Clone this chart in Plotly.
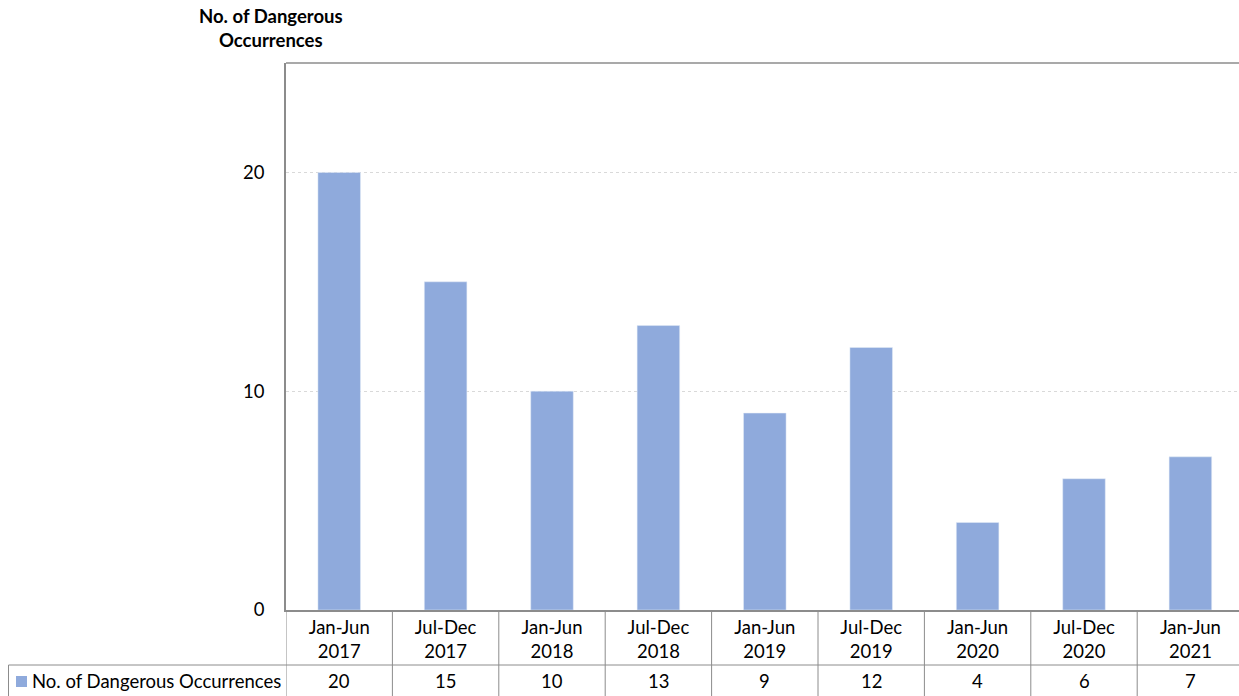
import plotly.graph_objects as go

categories = ["Jan-Jun<br>2017", "Jul-Dec<br>2017", "Jan-Jun<br>2018", "Jul-Dec<br>2018",
              "Jan-Jun<br>2019", "Jul-Dec<br>2019", "Jan-Jun<br>2020", "Jul-Dec<br>2020",
              "Jan-Jun<br>2021"]
values = [20, 15, 10, 13, 9, 12, 4, 6, 7]
series_name = "No. of Dangerous Occurrences"
y_ticks = [0, 10, 20]

BAR = "#8FAADC"
LINE = "#8C8C8C"
FONT = "Lato"
FS = 18.5
W, H = 1239, 696
L, R, T, B = 286, 0, 63, 86
ph = H - T - B
pw = W - L - R


def py(ref_y):
    return (610 - ref_y) / ph


def px(ref_x):
    return (ref_x - 286) / pw


fig = go.Figure()
fig.add_trace(go.Bar(x=list(range(len(categories))), y=values, marker_color=BAR,
                     width=0.40, name=series_name, showlegend=False))

shapes = []
shapes.append(dict(type="line", xref="paper", yref="paper", x0=0, x1=1, y0=1, y1=1,
                   line=dict(color=LINE, width=1.5)))
yb = -B / ph
ymid = py(665)
for i in range(len(categories) + 1):
    shapes.append(dict(type="line", xref="x", yref="paper", x0=i - 0.5, x1=i - 0.5,
                       y0=yb, y1=0, line=dict(color=LINE, width=1)))
x_left = px(8.5)
shapes.append(dict(type="line", xref="paper", yref="paper", x0=x_left, x1=1,
                   y0=ymid, y1=ymid, line=dict(color=LINE, width=1)))
shapes.append(dict(type="line", xref="paper", yref="paper", x0=x_left, x1=x_left,
                   y0=yb, y1=ymid, line=dict(color=LINE, width=1)))
shapes.append(dict(type="rect", xref="paper", yref="paper",
                   x0=px(16), x1=px(27), y0=py(687), y1=py(676),
                   fillcolor=BAR, line=dict(width=0)))

annotations = []
for i, v in enumerate(values):
    annotations.append(dict(x=i, xref="x", y=py(681), yref="paper", text=str(v),
                            showarrow=False, font=dict(size=FS, color="#000000", family=FONT),
                            xanchor="center", yanchor="middle"))
annotations.append(dict(x=px(30), xref="paper", y=py(681), yref="paper",
                        text=series_name, showarrow=False, xanchor="left", yanchor="middle",
                        font=dict(size=FS, color="#000000", family=FONT)))
annotations.append(dict(x=px(271), xref="paper", y=py(28.5), yref="paper",
                        text="<b>No. of Dangerous<br>Occurrences</b>", showarrow=False,
                        xanchor="center", yanchor="middle", align="center",
                        font=dict(size=FS, color="#000000", family=FONT)))

fig.update_layout(
    width=W, height=H, margin=dict(l=L, r=R, t=T, b=B),
    plot_bgcolor="white", paper_bgcolor="white",
    font=dict(family=FONT, size=FS, color="#000000"),
    shapes=shapes, annotations=annotations,
    xaxis=dict(range=[-0.5, -0.5 + pw / 106.4], tickmode="array",
               tickvals=list(range(len(categories))), ticktext=categories,
               showline=True, linecolor=LINE, linewidth=1.5, showgrid=False,
               ticks="",
               tickfont=dict(size=FS, family=FONT, color="#000000"), zeroline=False),
    yaxis=dict(range=[0, 25], tickvals=y_ticks, showline=True, linecolor=LINE, linewidth=1.5,
               showgrid=True, gridcolor="#D9D9D9", griddash="dot", gridwidth=1,
               ticks="outside", ticklen=16, tickcolor="rgba(0,0,0,0)", zeroline=False,
               tickfont=dict(size=FS, family=FONT, color="#000000")),
)

fig.write_html("out.html", config={"displayModeBar": False},
               post_script="document.body.style.margin='0';document.body.style.overflow='hidden';")
